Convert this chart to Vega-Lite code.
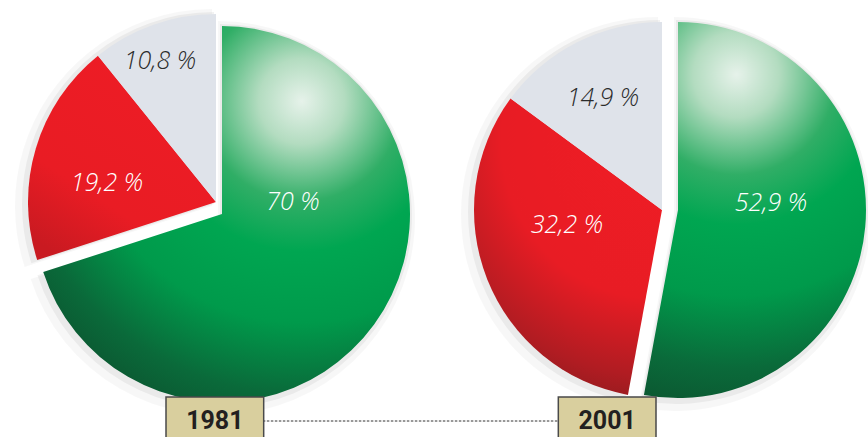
{
  "$schema": "https://vega.github.io/schema/vega-lite/v6.json",
  "width": 868,
  "height": 437,
  "padding": 0,
  "autosize": {"type": "none"},
  "background": "white",
  "config": {"view": {"stroke": null}},
  "data": {
    "values": [
      {"year": "1981", "cat": "a", "value": 70, "label": "70 %"},
      {"year": "1981", "cat": "b", "value": 19.2, "label": "19,2 %"},
      {"year": "1981", "cat": "c", "value": 10.8, "label": "10,8 %"},
      {"year": "2001", "cat": "a", "value": 52.9, "label": "52,9 %"},
      {"year": "2001", "cat": "b", "value": 32.2, "label": "32,2 %"},
      {"year": "2001", "cat": "c", "value": 14.9, "label": "14,9 %"}
    ]
  },
  "transform": [
    {"stack": "value", "groupby": ["year"], "sort": [{"field": "cat", "order": "ascending"}], "as": ["t0", "t1"]}
  ],
  "resolve": {"scale": {"x": "independent", "y": "independent"}},
  "layer": [
    {
      "encoding": {
        "x": {"field": "year", "type": "ordinal", "scale": {"type": "point", "range": [222, 678], "padding": 0}, "axis": null},
        "y": {"field": "year", "type": "ordinal", "scale": {"type": "point", "range": [214, 210], "padding": 0}, "axis": null}
      },
      "layer": [
        {
          "transform": [{"filter": "datum.year == '1981' && datum.cat == 'a'"}],
          "mark": {"type": "arc", "outerRadius": 197, "fill": "#000", "fillOpacity": 0.03, "xOffset": -4, "yOffset": 4},
          "encoding": {"theta": {"field": "t0", "type": "quantitative", "scale": {"domain": [0, 100]}, "stack": null}, "theta2": {"field": "t1"}}
        },
        {
          "transform": [{"filter": "datum.year == '1981' && datum.cat == 'a'"}],
          "mark": {"type": "arc", "outerRadius": 192, "fill": "#000", "fillOpacity": 0.05, "xOffset": -2, "yOffset": 2},
          "encoding": {"theta": {"field": "t0", "type": "quantitative", "stack": null}, "theta2": {"field": "t1"}}
        },
        {
          "transform": [{"filter": "datum.year == '1981' && datum.cat != 'a'"}],
          "mark": {"type": "arc", "outerRadius": 197, "fill": "#000", "fillOpacity": 0.03, "xOffset": -10, "yOffset": -8},
          "encoding": {"theta": {"field": "t0", "type": "quantitative", "stack": null}, "theta2": {"field": "t1"}}
        },
        {
          "transform": [{"filter": "datum.year == '1981' && datum.cat != 'a'"}],
          "mark": {"type": "arc", "outerRadius": 192, "fill": "#000", "fillOpacity": 0.05, "xOffset": -8, "yOffset": -10},
          "encoding": {"theta": {"field": "t0", "type": "quantitative", "stack": null}, "theta2": {"field": "t1"}}
        },
        {
          "transform": [{"filter": "datum.year == '2001' && datum.cat == 'a'"}],
          "mark": {"type": "arc", "outerRadius": 197, "fill": "#000", "fillOpacity": 0.03, "xOffset": -4, "yOffset": 4},
          "encoding": {"theta": {"field": "t0", "type": "quantitative", "stack": null}, "theta2": {"field": "t1"}}
        },
        {
          "transform": [{"filter": "datum.year == '2001' && datum.cat == 'a'"}],
          "mark": {"type": "arc", "outerRadius": 192, "fill": "#000", "fillOpacity": 0.05, "xOffset": -2, "yOffset": 2},
          "encoding": {"theta": {"field": "t0", "type": "quantitative", "stack": null}, "theta2": {"field": "t1"}}
        },
        {
          "transform": [{"filter": "datum.year == '2001' && datum.cat != 'a'"}],
          "mark": {"type": "arc", "outerRadius": 197, "fill": "#000", "fillOpacity": 0.03, "xOffset": -20, "yOffset": 4},
          "encoding": {"theta": {"field": "t0", "type": "quantitative", "stack": null}, "theta2": {"field": "t1"}}
        },
        {
          "transform": [{"filter": "datum.year == '2001' && datum.cat != 'a'"}],
          "mark": {"type": "arc", "outerRadius": 192, "fill": "#000", "fillOpacity": 0.05, "xOffset": -18, "yOffset": 2},
          "encoding": {"theta": {"field": "t0", "type": "quantitative", "stack": null}, "theta2": {"field": "t1"}}
        },
        {
          "transform": [{"filter": "datum.year == '1981' && datum.cat == 'a'"}],
          "mark": {
            "type": "arc", "outerRadius": 188,
            "fill": {"gradient": "radial", "x1": 0.7, "y1": 0.2, "r1": 0, "x2": 0.7, "y2": 0.2, "r2": 0.95,
              "stops": [
                {"offset": 0, "color": "#e6f2ea"},
                {"offset": 0.12, "color": "#b3dcc0"},
                {"offset": 0.28, "color": "#30ae66"},
                {"offset": 0.42, "color": "#00a651"},
                {"offset": 0.62, "color": "#009a4b"},
                {"offset": 0.82, "color": "#0a6a3a"},
                {"offset": 1, "color": "#0c4f2d"}
              ]}
          },
          "encoding": {"theta": {"field": "t0", "type": "quantitative", "stack": null}, "theta2": {"field": "t1"}}
        },
        {
          "transform": [{"filter": "datum.year == '1981' && datum.cat == 'b'"}],
          "mark": {
            "type": "arc", "outerRadius": 188, "xOffset": -6, "yOffset": -12,
            "fill": {"gradient": "linear", "x1": 0.8, "y1": 0, "x2": 0.2, "y2": 1,
              "stops": [
                {"offset": 0, "color": "#ee1c25"},
                {"offset": 0.7, "color": "#e91c24"},
                {"offset": 1, "color": "#c91a21"}
              ]}
          },
          "encoding": {"theta": {"field": "t0", "type": "quantitative", "stack": null}, "theta2": {"field": "t1"}}
        },
        {
          "transform": [{"filter": "datum.year == '1981' && datum.cat == 'c'"}],
          "mark": {"type": "arc", "outerRadius": 188, "xOffset": -6, "yOffset": -12, "fill": "#dfe3ea"},
          "encoding": {"theta": {"field": "t0", "type": "quantitative", "stack": null}, "theta2": {"field": "t1"}}
        },
        {
          "transform": [{"filter": "datum.year == '2001' && datum.cat == 'a'"}],
          "mark": {
            "type": "arc", "outerRadius": 188,
            "fill": {"gradient": "radial", "x1": 0.45, "y1": 0.14, "r1": 0, "x2": 0.45, "y2": 0.14, "r2": 0.95,
              "stops": [
                {"offset": 0, "color": "#e6f2ea"},
                {"offset": 0.12, "color": "#b3dcc0"},
                {"offset": 0.28, "color": "#30ae66"},
                {"offset": 0.42, "color": "#00a651"},
                {"offset": 0.62, "color": "#009a4b"},
                {"offset": 0.82, "color": "#0a6a3a"},
                {"offset": 1, "color": "#0c4f2d"}
              ]}
          },
          "encoding": {"theta": {"field": "t0", "type": "quantitative", "stack": null}, "theta2": {"field": "t1"}}
        },
        {
          "transform": [{"filter": "datum.year == '2001' && datum.cat == 'b'"}],
          "mark": {
            "type": "arc", "outerRadius": 188, "xOffset": -16, "yOffset": 0,
            "fill": {"gradient": "radial", "x1": 0.8, "y1": 0.15, "r1": 0, "x2": 0.8, "y2": 0.15, "r2": 1.05,
              "stops": [
                {"offset": 0, "color": "#f01d25"},
                {"offset": 0.5, "color": "#e81c24"},
                {"offset": 0.75, "color": "#b01c22"},
                {"offset": 1, "color": "#6a1a1a"}
              ]}
          },
          "encoding": {"theta": {"field": "t0", "type": "quantitative", "stack": null}, "theta2": {"field": "t1"}}
        },
        {
          "transform": [{"filter": "datum.year == '2001' && datum.cat == 'c'"}],
          "mark": {"type": "arc", "outerRadius": 188, "xOffset": -16, "yOffset": 0, "fill": "#dfe3ea"},
          "encoding": {"theta": {"field": "t0", "type": "quantitative", "stack": null}, "theta2": {"field": "t1"}}
        },
        {
          "transform": [{"filter": "datum.year == '1981' && datum.cat == 'a'"}],
          "mark": {"type": "text", "dx": 71, "dy": -12, "fontSize": 25, "fontStyle": "italic", "fontWeight": 300, "font": "Open Sans", "fill": "#ffffff", "align": "center", "baseline": "middle"},
          "encoding": {"text": {"field": "label"}}
        },
        {
          "transform": [{"filter": "datum.year == '1981' && datum.cat == 'b'"}],
          "mark": {"type": "text", "dx": -115, "dy": -31, "fontSize": 25, "fontStyle": "italic", "fontWeight": 300, "font": "Open Sans", "fill": "#ffffff", "align": "center", "baseline": "middle"},
          "encoding": {"text": {"field": "label"}}
        },
        {
          "transform": [{"filter": "datum.year == '1981' && datum.cat == 'c'"}],
          "mark": {"type": "text", "dx": -62, "dy": -153, "fontSize": 25, "fontStyle": "italic", "fontWeight": 300, "font": "Open Sans", "fill": "#2b2b2b", "align": "center", "baseline": "middle"},
          "encoding": {"text": {"field": "label"}}
        },
        {
          "transform": [{"filter": "datum.year == '2001' && datum.cat == 'a'"}],
          "mark": {"type": "text", "dx": 93, "dy": -7, "fontSize": 25, "fontStyle": "italic", "fontWeight": 300, "font": "Open Sans", "fill": "#ffffff", "align": "center", "baseline": "middle"},
          "encoding": {"text": {"field": "label"}}
        },
        {
          "transform": [{"filter": "datum.year == '2001' && datum.cat == 'b'"}],
          "mark": {"type": "text", "dx": -111, "dy": 15, "fontSize": 25, "fontStyle": "italic", "fontWeight": 300, "font": "Open Sans", "fill": "#ffffff", "align": "center", "baseline": "middle"},
          "encoding": {"text": {"field": "label"}}
        },
        {
          "transform": [{"filter": "datum.year == '2001' && datum.cat == 'c'"}],
          "mark": {"type": "text", "dx": -75, "dy": -112, "fontSize": 25, "fontStyle": "italic", "fontWeight": 300, "font": "Open Sans", "fill": "#2b2b2b", "align": "center", "baseline": "middle"},
          "encoding": {"text": {"field": "label"}}
        }
      ]
    },
    {
      "transform": [{"filter": "datum.cat == 'a'"}],
      "encoding": {
        "x": {"field": "year", "type": "ordinal", "scale": {"type": "band", "range": [166, 656], "paddingInner": 0.751, "paddingOuter": 0}, "axis": null}
      },
      "layer": [
        {
          "mark": {"type": "line", "y": 421, "stroke": "#333333", "strokeWidth": 1, "strokeDash": [2.5, 1.5]},
          "encoding": {}
        },
        {
          "mark": {"type": "rect", "y": 397, "y2": 450, "fill": "#d9cf9e", "stroke": "#4a4a4a", "strokeWidth": 1.5}
        },
        {
          "mark": {"type": "text", "y": 421, "fontSize": 25, "fontWeight": "bold", "font": "Roboto", "fill": "#231f20", "align": "center", "baseline": "middle"},
          "encoding": {"text": {"field": "year"}}
        }
      ]
    }
  ]
}
